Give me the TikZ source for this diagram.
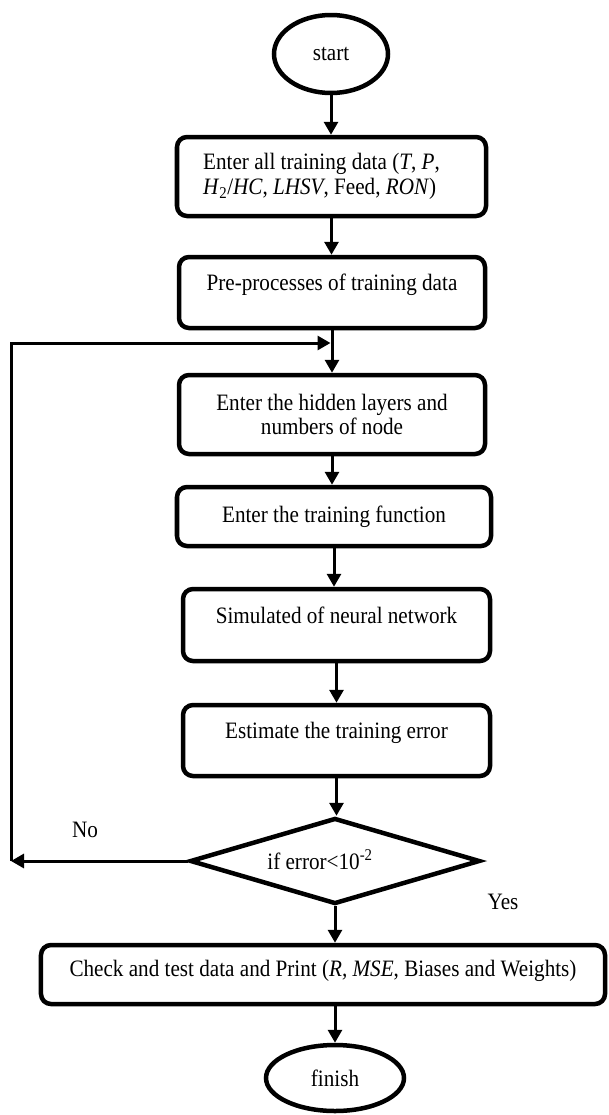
\documentclass[tikz,border=0pt]{standalone}
\usepackage{fontspec}
\setmainfont{Liberation Serif}[FakeStretch=0.9]
\usetikzlibrary{arrows.meta,shapes.geometric}
\begin{document}
\begin{tikzpicture}[x=1bp,y=-1bp,
  font=\fontsize{23.5bp}{24.5bp}\selectfont,
  box/.style={draw, line width=4.5bp, rounded corners=10bp, inner sep=0pt, align=center},
  oval/.style={draw, ellipse, line width=4.5bp, inner sep=0pt},
  raised/.style={text height=16bp, text depth=20bp},
  flow/.style={line width=3bp, -{Triangle[length=13bp,width=14bp]}},
  lbl/.style={inner sep=0pt}]
\useasboundingbox (0,0) rectangle (609,1115);

\node[oval, minimum width=114bp, minimum height=78bp] (start) at (331,54) {start};
\node[box, align=left, minimum width=309bp, minimum height=79bp] (b1) at (331.5,176.5)
  {Enter all training data (\textit{T}, \textit{P},\hspace*{20bp}\\\textit{H}\textsubscript{2}/\textit{HC}, \textit{LHSV}, Feed, \textit{RON})};
\node[box, raised, minimum width=306bp, minimum height=71bp] (b2) at (332,292.5) {Pre-processes of training data};
\node[box, minimum width=306bp, minimum height=79bp] (b3) at (332,414.5) {Enter the hidden layers and\\numbers of node};
\node[box, minimum width=314bp, minimum height=59bp] (b4) at (334,516.5) {Enter the training function};
\node[box, raised, minimum width=307bp, minimum height=72bp] (b5) at (336.5,625) {Simulated of neural network};
\node[box, raised, minimum width=307bp, minimum height=71bp] (b6) at (336.5,740.5) {Estimate the training error};
\node[draw, diamond, line width=4.5bp, inner sep=0pt, shape aspect=3.3, text height=22bp, text depth=5bp,
      minimum width=290bp, minimum height=86bp] (dia) at (335,861) {if error<10\textsuperscript{-2}\hspace*{30bp}};
\node[box, text height=16bp, text depth=12bp, minimum width=564bp, minimum height=59bp] (chk) at (323,974.5)
  {Check and test data and Print (\textit{R, MSE}, Biases and Weights)};
\node[oval, minimum width=138bp, minimum height=66bp] (fin) at (335,1078) {finish};

\node[lbl] (no) at (85,830) {No};
\node[lbl] (yes) at (503,902) {Yes};

\draw[flow] (start.south) -- (start.south |- b1.north);
\draw[flow] (b1.south) -- (b1.south |- b2.north);
\draw[flow] (b2.south) -- (b2.south |- b3.north);
\draw[flow] (b3.south) -- (b3.south |- b4.north);
\draw[flow] (b4.south) -- (b4.south |- b5.north);
\draw[flow] (b5.south) -- (b5.south |- b6.north);
\draw[flow] (b6.south) -- (b6.south |- dia.north);
\draw[flow] (dia.south) -- (dia.south |- chk.north);
\draw[flow] (chk.south -| fin.north) -- (fin.north);

\coordinate (cL) at (11,861);
\coordinate (cT) at (11,343);
\coordinate (j) at (b2.south |- cT);
\draw[flow] (dia.west) -- (cL);
\draw[flow, shorten >=1.5bp] (cL) -- (cT) -- (j);
\end{tikzpicture}
\end{document}
